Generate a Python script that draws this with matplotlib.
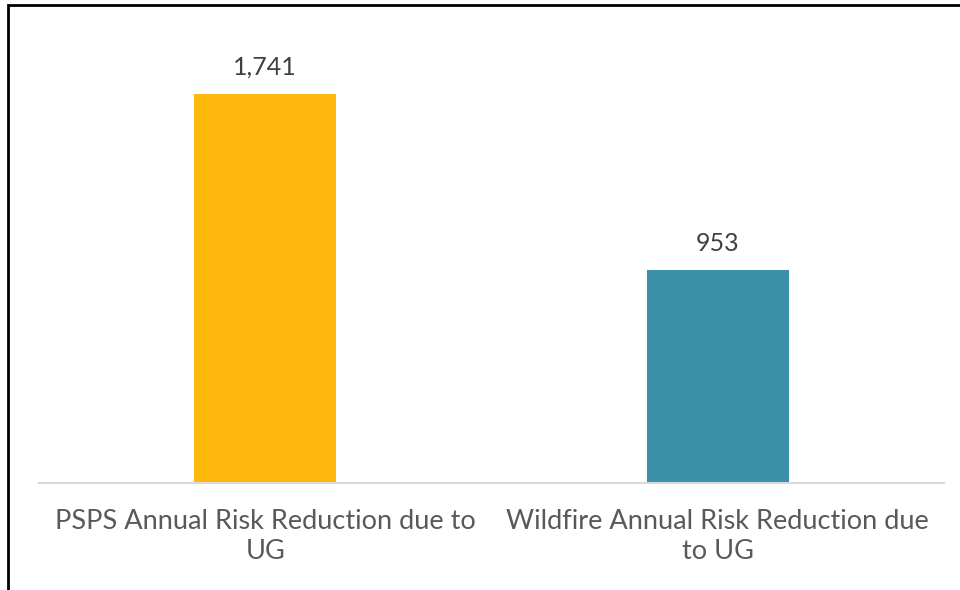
import matplotlib.pyplot as plt
from matplotlib.patches import Rectangle

categories = ['PSPS Annual Risk Reduction due to\nUG', 'Wildfire Annual Risk Reduction due\nto UG']
values = [1741, 953]
colors = ['#FFB70B', '#3A90A8']

plt.rcParams['font.family'] = ['Lato', 'DejaVu Sans']

fig = plt.figure(figsize=(9.6, 5.9), dpi=100)
ax = fig.add_axes([39/960, 1 - 483/590, 905/960, (483 - 36)/590])

x = range(len(values))
bars = ax.bar(x, values, width=0.314, color=colors)
for b, v in zip(bars, values):
    ax.annotate(f'{v:,}', (b.get_x() + b.get_width()/2, v), xytext=(0, 11),
                textcoords='offset points', ha='center', va='bottom',
                fontsize=18, color='#404040')

ax.set_xlim(-0.5, 1.5)
ax.set_ylim(0, 2000)
ax.set_xticks(list(x))
ax.set_xticklabels(categories, fontsize=19.5, color='#595959', linespacing=1.25)
ax.tick_params(axis='x', length=0, pad=19)
ax.set_yticks([])
for s in ['top', 'right', 'left']:
    ax.spines[s].set_visible(False)
ax.spines['bottom'].set_color('#D9D9D9')
ax.spines['bottom'].set_linewidth(1.5)

# outer frame of the chart
fig.patches.append(Rectangle((8/960, -0.01), 960/960, 1 - 5/590 + 0.01,
                             transform=fig.transFigure, fill=False,
                             edgecolor='black', linewidth=2))

fig.savefig('out.png', dpi=100)
